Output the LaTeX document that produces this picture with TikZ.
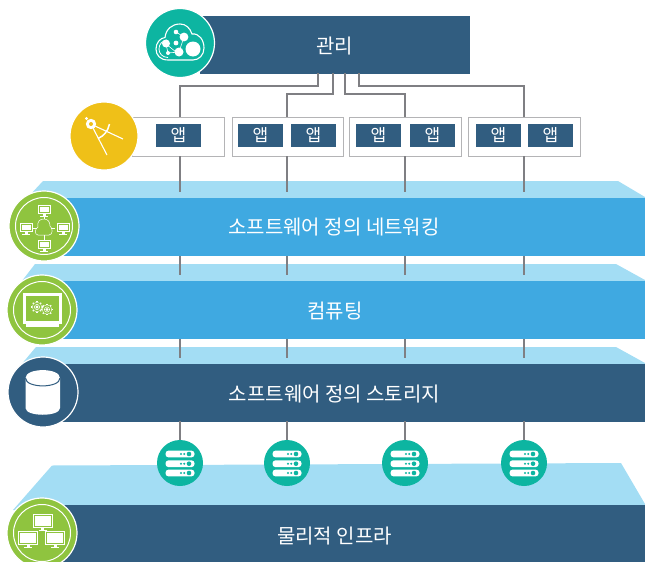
\documentclass[tikz,border=0pt]{standalone}
\usepackage{fontspec}
\setmainfont{Noto Sans CJK KR}
\definecolor{dark}{HTML}{315D80}
\definecolor{sky}{HTML}{3FA9E1}
\definecolor{pale}{HTML}{A3DDF4}
\definecolor{teal}{HTML}{0DB5A1}
\definecolor{amber}{HTML}{EFC018}
\definecolor{leaf}{HTML}{8FC43F}
\definecolor{wire}{HTML}{7F7F83}
\definecolor{frame}{HTML}{B4B4B6}
\tikzset{
  bar/.style={anchor=north west,inner sep=0,outer sep=0,minimum height=57.5pt},
  label/.style={text=white,font=\fontsize{20}{20}\selectfont},
  appbox/.style={anchor=north west,draw=frame,line width=.9pt,fill=white,inner sep=0,outer sep=0,minimum height=39pt},
  appchip/.style={anchor=north west,fill=dark,text=white,inner sep=0,outer sep=0,minimum width=45pt,minimum height=23pt,font=\fontsize{17}{17}\selectfont},
  conn/.style={draw=wire,line width=1.3pt},
  badge/.style={circle,draw=white,line width=1.2pt,inner sep=0,outer sep=0,minimum size=69pt},
  srv/.style={circle,fill=teal,inner sep=0,outer sep=0,minimum size=46pt},
}
% monitor icon: centre x y, half width w, half height h
\newcommand{\moni}[4]{%
  \fill[white] (#1-#3,#2-#4) rectangle (#1+#3,#2+#4);
  \draw[leaf,line width=.7pt] (#1-#3+1.5,#2-#4+1.5) rectangle (#1+#3-1.5,#2+#4-1.5);
  \fill[white] (#1-1.5,#2+#4) rectangle (#1+1.5,#2+#4+2);
  \fill[white] (#1-4,#2+#4+2) rectangle (#1+4,#2+#4+3);
}
% server glyph
\newcommand{\srvrow}[2]{%
  \fill[white,rounded corners=3pt] (#1-14.5,#2-3.4) rectangle (#1+14.5,#2+3.4);
  \fill[teal] (#1+9,#2) circle (2.3);
  \fill[teal] (#1+4.2,#2) circle (1.1);
  \fill[teal] (#1+1,#2) circle (1.1);
}
\newcommand{\srvico}[1]{\srvrow{#1}{454}\srvrow{#1}{463.7}\srvrow{#1}{473}}
\newcommand{\gearico}[2]{%
  \fill[white] (#1,#2) circle (1.6);
  \draw[white,line width=.5pt] (#1,#2) circle (2.6);
  \foreach \a in {0,45,...,315}{\draw[white,line width=1.2pt] (#1,#2) ++(\a:4.6) -- ++(\a:1.3);}
  \draw[white,line width=.4pt] (#1,#2) circle (4.8);
}
\begin{document}
\begin{tikzpicture}[x=1pt,y=-1pt]
\useasboundingbox (0,0) rectangle (645,562);
% pale top faces
\fill[pale] (43,181) -- (618,181) -- (645,197) -- (645,210) -- (16,210) -- cycle;
\fill[pale] (35,264) -- (616,264) -- (645,280) -- (645,290) -- (15,290) -- cycle;
\fill[pale] (36,347) -- (616,347) -- (645,363) -- (645,372) -- (15,372) -- cycle;
\fill[pale] (52,465.5) -- (621,463) -- (645,504) -- (645,510) -- (13,510) -- cycle;
% bars
\node[bar,fill=dark,minimum width=270pt] (mgmt) at (200,16) {};
\node[bar,fill=sky,minimum width=585pt] (sdn) at (60,198) {};
\node[bar,fill=sky,minimum width=585pt] (comp) at (60,281) {};
\node[bar,fill=dark,minimum width=585pt] (sds) at (60,364) {};
\node[bar,fill=dark,minimum width=585pt] (phys) at (60,505) {};
\node[label] (tm) at (334.5,46) {관리};
\node[label] (t1) at (334,227.5) {소프트웨어 정의 네트워킹};
\node[label] (t2) at (335,311) {컴퓨팅};
\node[label] (t3) at (334.5,394) {소프트웨어 정의 스토리지};
\node[label] (t4) at (334.5,536) {물리적 인프라};
% app boxes
\node[appbox,minimum width=92pt] (b1) at (132,117) {};
\node[appbox,minimum width=111pt] (b2) at (232,117) {};
\node[appbox,minimum width=112pt] (b3) at (349,117) {};
\node[appbox,minimum width=112pt] (b4) at (468,117) {};
\node[appchip] (a1) at (156,124) {앱};
\node[appchip] (a2) at (238,124) {앱};
\node[appchip] (a3) at (291,124) {앱};
\node[appchip] (a4) at (356,124) {앱};
\node[appchip] (a5) at (410,124) {앱};
\node[appchip] (a6) at (476,124) {앱};
\node[appchip] (a7) at (528,124) {앱};
% anchors for the connectors
\foreach \n/\x in {1/180,2/287,3/405,4/524}{
  \coordinate (top\n) at (\x,117);
  \coordinate (bot\n) at (\x,156);
  \coordinate (ea\n) at (\x,192);
  \coordinate (nb\n) at (\x,256);
  \coordinate (nc\n) at (\x,275);
  \coordinate (cb\n) at (\x,339);
  \coordinate (cc\n) at (\x,358);
  \coordinate (sb\n) at (\x,421);
}
\coordinate (m1) at (318,73);
\coordinate (m2) at (333,73);
\coordinate (m3) at (345,73);
\coordinate (m4) at (359,73);
\draw[conn] (m1) -- ++(0,13) -| (top1);
\draw[conn] (m2) -- ++(0,21) -| (top2);
\draw[conn] (m3) -- ++(0,21) -| (top3);
\draw[conn] (m4) -- ++(0,13) -| (top4);
\foreach \n in {1,2,3,4}{
  \draw[conn] (bot\n) -- (ea\n);
  \draw[conn] (nb\n) -- (nc\n);
  \draw[conn] (cb\n) -- (cc\n);
}
% server discs
\node[srv] (s1) at (180,463) {};
\node[srv] (s2) at (287,463) {};
\node[srv] (s3) at (405,463) {};
\node[srv] (s4) at (524,463) {};
\foreach \n in {1,2,3,4}{\draw[conn] (sb\n) -- (s\n);}
\srvico{180}\srvico{287}\srvico{405}\srvico{524}
% management badge
\node[badge,fill=teal] (bm) at (180,43) {};
\draw[white,line width=1.1pt]
  (168,60) .. controls (160,60) and (156,55) .. (156,49)
  .. controls (156,43) and (160,38) .. (165,37.5)
  .. controls (166,29) and (172,24) .. (180,24)
  .. controls (186,24) and (190,28) .. (192,34)
  .. controls (199,33) and (204,40) .. (204,48)
  .. controls (204,55) and (199,60) .. (193,60) -- cycle;
\draw[white,line width=.8pt] (168,57.5) .. controls (162,57.5) and (159,53) .. (159,49) .. controls (159,44) and (162,41) .. (167,40);
\fill[white] (193,49) circle (7.5);
\fill[white] (179,52) circle (4.5);
\fill[white] (184,37) circle (4.4);
\fill[white] (166,43.5) circle (4);
\fill[white] (176,43) circle (2.4);
\fill[white] (176,32) circle (2.3);
\fill[white] (168,53) circle (2);
\draw[white,line width=.6pt] (176,32) -- (184,37) -- (179,52) -- (168,53) -- (166,44) -- (176,52);
% compass badge
\node[badge,fill=amber,minimum size=68pt] (bc) at (104,136) {};
\fill[white] (91,124) circle (5.2);
\fill[amber] (91,124) circle (2);
\fill[white] (86.5,118.5) circle (1.6);
\draw[white,line width=1.1pt] (93,128) -- (107,155);
\draw[white,line width=1.1pt] (95,126) -- (123,139);
\draw[white,line width=1.5pt] (109.5,124) .. controls (108,131) and (104,136) .. (98,138.5);
% network badge
\node[badge,fill=leaf,minimum size=70pt] (bn) at (44,226) {};
\draw[white,line width=1pt] (44,226) circle (28.5);
\draw[white,line width=.5pt] (38,235) .. controls (34,235) and (35,228) .. (38,227) .. controls (37,221) and (40,219) .. (44,219) .. controls (48,219) and (50,222) .. (50,226) .. controls (53,228) and (53,235) .. (49,235) -- cycle;
\draw[white,line width=.5pt] (44,212) -- (44,219) (33,228) -- (37,228) (51,228) -- (55,228) (44,235) -- (44,240);
\moni{44}{209}{6.5}{4.5}
\moni{26}{227}{6.5}{4.5}
\moni{63}{227}{6.5}{4.5}
\moni{44}{244}{6.5}{4.5}
% compute badge
\node[badge,fill=leaf,minimum size=70pt] (bp) at (42,310) {};
\draw[white,line width=1pt] (42,310) circle (28.5);
\draw[white,line width=3pt] (24.5,294.5) rectangle (60.5,322);
\fill[white] (26,322) rectangle (59,327);
\gearico{37}{307}
\gearico{47}{309.5}
% storage badge
\node[badge,fill=dark,minimum size=70pt] (bs) at (43,392) {};
\fill[white] (25.5,378) .. controls (25.5,367.5) and (60,367.5) .. (60,378)
  -- (60,408) .. controls (60,417) and (25.5,417) .. (25.5,408) -- cycle;
\draw[dark,line width=1pt] (25.5,378) .. controls (25.5,388.5) and (60,388.5) .. (60,378);
% physical badge
\node[badge,fill=leaf,minimum size=70pt] (bf) at (42,533) {};
\draw[white,line width=1pt] (42,533) circle (28.5);
\moni{42.5}{520.5}{10}{7}
\moni{28}{538}{10}{7}
\moni{55}{538}{10}{7}
\end{tikzpicture}
\end{document}
